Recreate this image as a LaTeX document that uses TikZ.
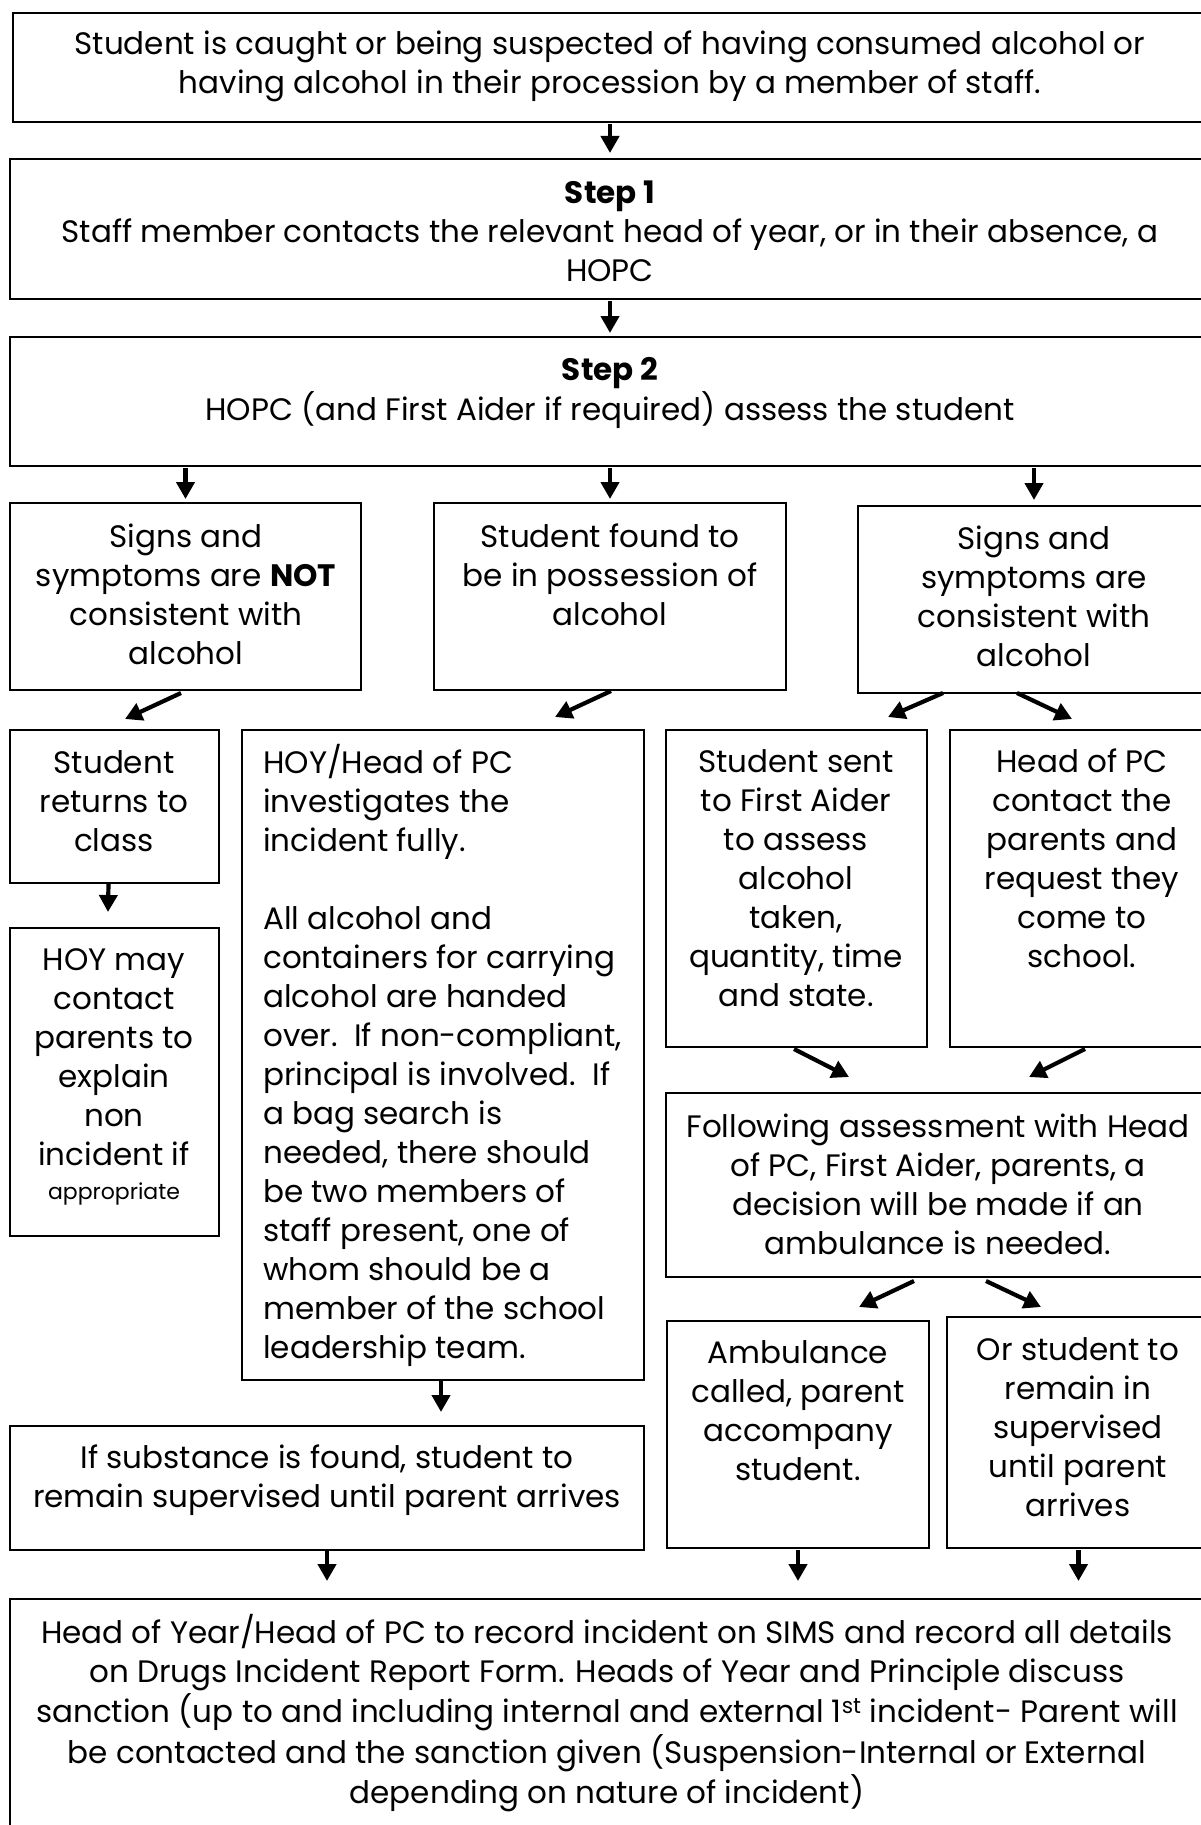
\documentclass[tikz,border=0pt]{standalone}
\usepackage{fontspec}
\setmainfont{Poppins}
\usetikzlibrary{arrows.meta,fit,calc}
\newcommand\tl[2][c]{\begin{tabular}[t]{@{}#1@{}}#2\end{tabular}}
\begin{document}
\begin{tikzpicture}[x=1pt,y=-1pt,
  box/.style={draw=black, line width=2.2pt, inner sep=0pt, outer sep=0pt},
  txt/.style={inner sep=0pt, anchor=base, font=\fontsize{31}{39}\selectfont},
  arr/.style={line width=4.2pt, -{Triangle[length=17pt,width=18pt]}}]
\useasboundingbox (0,0) rectangle (1200,1825);
% boxes
\node[box, fit={(13,13) (1210,122)}] (A) {};
\node[box, fit={(10,159) (1210,299)}] (B) {};
\node[box, fit={(10,337) (1210,466)}] (C) {};
\node[box, fit={(10,503) (361,690)}] (D1) {};
\node[box, fit={(434,503) (786,690)}] (D2) {};
\node[box, fit={(858,506) (1210,693)}] (D3) {};
\node[box, fit={(10,730) (219,883)}] (E1) {};
\node[box, fit={(242,730) (644,1380)}] (E2) {};
\node[box, fit={(666,730) (927,1047)}] (E3) {};
\node[box, fit={(950,730) (1210,1047)}] (E4) {};
\node[box, fit={(10,928) (219,1236)}] (F1) {};
\node[box, fit={(666,1093) (1210,1277)}] (G) {};
\node[box, fit={(667,1321) (929,1548)}] (H1) {};
\node[box, fit={(947,1317) (1210,1548)}] (H2) {};
\node[box, fit={(10,1426) (644,1550)}] (I) {};
\node[box, fit={(10,1599) (1210,1835)}] (J) {};
% texts
\node[txt] (At) at (610,55) {\tl{Student is caught or being suspected of having consumed alcohol or\\having alcohol in their procession by a member of staff.}};
\node[txt] (Bt) at (610,203) {\tl{\textbf{Step 1}\\Staff member contacts the relevant head of year, or in their absence, a\\HOPC}};
\node[txt] (Ct) at (610,380) {\tl{\textbf{Step 2}\\HOPC (and First Aider if required) assess the student}};
\node[txt] (D1t) at (186,547) {\tl{Signs and\\symptoms are \textbf{NOT}\\consistent with\\alcohol}};
\node[txt] (D2t) at (610,547) {\tl{Student found to\\be in possession of\\alcohol}};
\node[txt] (D3t) at (1034,549) {\tl{Signs and\\symptoms are\\consistent with\\alcohol}};
\node[txt] (E1t) at (114,773) {\tl{Student\\returns to\\class}};
\node[txt, anchor=base west] (E2t) at (263,773) {\tl[l]{HOY/Head of PC\\investigates the\\incident fully.\\ \\All alcohol and\\containers for carrying\\alcohol are handed\\over.\ \ If non-compliant,\\principal is involved.\ \ If\\a bag search is\\needed, there should\\be two members of\\staff present, one of\\whom should be a\\member of the school\\leadership team.}};
\node[txt] (E3t) at (796,772) {\tl{Student sent\\to First Aider\\to assess\\alcohol\\taken,\\quantity, time\\and state.}};
\node[txt] (E4t) at (1082,772) {\tl{Head of PC\\contact the\\parents and\\request they\\come to\\school.}};
\node[txt] (F1t) at (114,970) {\tl{HOY may\\contact\\parents to\\explain\\non\\incident if\\[-5pt]{\fontsize{22}{28}\selectfont appropriate}}};
\node[txt] (Gt) at (938,1137) {\tl{Following assessment with Head\\of PC, First Aider, parents, a\\decision will be made if an\\ambulance is needed.}};
\node[txt] (H1t) at (798,1363) {\tl{Ambulance\\called, parent\\accompany\\student.}};
\node[txt] (H2t) at (1078,1360) {\tl{Or student to\\remain in\\supervised\\until parent\\arrives}};
\node[txt] (It) at (327,1468) {\tl{If substance is found, student to\\remain supervised until parent arrives}};
\node[txt] (Jt) at (607,1643) {\tl{Head of Year/Head of PC to record incident on SIMS and record all details\\on Drugs Incident Report Form. Heads of Year and Principle discuss\\sanction (up to and including internal and external 1\textsuperscript{st} incident- Parent will\\be contacted and the sanction given (Suspension-Internal or External\\depending on nature of incident)}};
% arrows
\draw[arr] ($(A.south -| B.north)+(0,2)$) -- ($(B.north)+(0,-6)$);
\draw[arr] ($(B.south)+(0,2)$) -- ($(C.north)+(0,-4)$);
\draw[arr] ($(C.south -| D1.north)+(0,2)$) -- ($(D1.north)+(0,-4)$);
\draw[arr] ($(C.south -| D2.north)+(0,2)$) -- ($(D2.north)+(0,-4)$);
\draw[arr] ($(C.south -| D3.north)+(0,2)$) -- ($(D3.north)+(0,-6)$);
\draw[arr] ($(D1.south)+(-4.5,3)$) -- ($(E1.north)+(10.5,-11)$);
\draw[arr] ($(D2.south)+(1,1)$) -- ($(E2.north)+(112,-13)$);
\draw[arr] ($(D3.south)+(-91,0)$) -- ($(E3.north)+(91.5,-13)$);
\draw[arr] ($(D3.south)+(-17,0)$) -- ($(E4.north)+(-8,-11)$);
\draw[arr] ($(E1.south)+(-6,0)$) -- ($(F1.north)+(-6.5,-16)$);
\draw[arr] ($(E3.south)+(-2.5,2)$) -- ($(G.north)+(-89,-16)$);
\draw[arr] ($(E4.south)+(5,2)$) -- ($(G.north)+(91,-16)$);
\draw[arr] ($(G.south)+(-24,4)$) -- ($(H1.north)+(61,-14)$);
\draw[arr] ($(G.south)+(48,4)$) -- ($(H2.north)+(-37.5,-10)$);
\draw[arr] ($(E2.south)+(-2,0)$) -- ($(I.north)+(114,-14)$);
\draw[arr] ($(I.south)+(0,1)$) -- ($(I.south |- J.north)+(0,-18)$);
\draw[arr] ($(H1.south)+(0,2)$) -- ($(H1.south |- J.north)+(0,-18)$);
\draw[arr] ($(H2.south)+(0,2)$) -- ($(H2.south |- J.north)+(0,-18)$);
\end{tikzpicture}
\end{document}
